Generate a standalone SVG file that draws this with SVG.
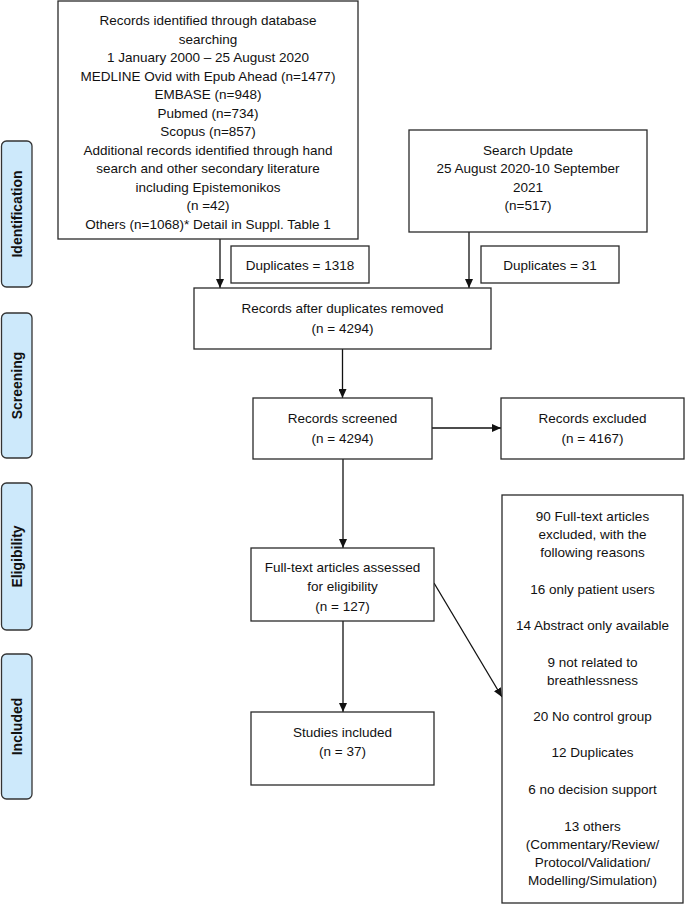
<svg xmlns="http://www.w3.org/2000/svg" width="685" height="906" viewBox="0 0 685 906">
<style>
  .box { fill: #ffffff; stroke: #2a2a2a; stroke-width: 1.3; }
  .phase { fill: #cde9fb; stroke: #333333; stroke-width: 1.3; }
  .t { font-family: "Liberation Sans", Arial, sans-serif; font-size: 13.5px; fill: #111111; text-anchor: middle; }
  .pt { font-family: "Liberation Sans", Arial, sans-serif; font-size: 14px; font-weight: bold; fill: #111111; text-anchor: middle; }
  .conn { stroke: #111111; stroke-width: 1.3; fill: none; marker-end: url(#ah); }
</style>
<defs>
  <marker id="ah" markerUnits="userSpaceOnUse" markerWidth="10" markerHeight="8" refX="9" refY="4" orient="auto">
    <path d="M0,0 L9,4 L0,8 z" fill="#111111"/>
  </marker>
</defs>
<rect x="0" y="0" width="685" height="906" fill="#ffffff"/>

<g id="phase-identification">
  <rect class="phase" x="1.5" y="141" width="30.5" height="146" rx="5"/>
  <text class="pt" transform="translate(21.8,214) rotate(-90)">Identification</text>
</g>
<g id="phase-screening">
  <rect class="phase" x="1.5" y="313" width="30.5" height="145" rx="5"/>
  <text class="pt" transform="translate(21.8,385.5) rotate(-90)">Screening</text>
</g>
<g id="phase-eligibility">
  <rect class="phase" x="1.5" y="483" width="30.5" height="147" rx="5"/>
  <text class="pt" transform="translate(21.8,556.5) rotate(-90)">Eligibility</text>
</g>
<g id="phase-included">
  <rect class="phase" x="1.5" y="654" width="30.5" height="145" rx="5"/>
  <text class="pt" transform="translate(21.8,726.5) rotate(-90)">Included</text>
</g>

<g id="connectors">
  <line class="conn" x1="220" y1="239" x2="220" y2="288"/>
  <line class="conn" x1="469" y1="232" x2="469" y2="288"/>
  <line class="conn" x1="342.5" y1="349" x2="342.5" y2="398"/>
  <line class="conn" x1="432" y1="428" x2="501" y2="428"/>
  <line class="conn" x1="343" y1="459" x2="343" y2="548"/>
  <line class="conn" x1="343" y1="621" x2="343" y2="712"/>
  <line class="conn" x1="434" y1="583" x2="502" y2="697"/>
</g>

<g id="records-identified">
  <rect class="box" x="58" y="1" width="300" height="238"/>
  <text class="t" x="208" y="25">Records identified through database</text>
  <text class="t" x="208" y="43.5">searching</text>
  <text class="t" x="208" y="62">1 January 2000 – 25 August 2020</text>
  <text class="t" x="208" y="80.5">MEDLINE Ovid with Epub Ahead (n=1477)</text>
  <text class="t" x="208" y="99">EMBASE (n=948)</text>
  <text class="t" x="208" y="117.5">Pubmed (n=734)</text>
  <text class="t" x="208" y="136">Scopus (n=857)</text>
  <text class="t" x="208" y="154.5">Additional records identified through hand</text>
  <text class="t" x="208" y="173">search and other secondary literature</text>
  <text class="t" x="208" y="191.5">including Epistemonikos</text>
  <text class="t" x="208" y="210">(n =42)</text>
  <text class="t" x="208" y="228.5">Others (n=1068)* Detail in Suppl. Table 1</text>
</g>

<g id="search-update">
  <rect class="box" x="409" y="130" width="238" height="102"/>
  <text class="t" x="528" y="154.5">Search Update</text>
  <text class="t" x="528" y="173">25 August 2020-10 September</text>
  <text class="t" x="528" y="191.5">2021</text>
  <text class="t" x="528" y="210">(n=517)</text>
</g>

<g id="duplicates-1318">
  <rect class="box" x="231" y="246" width="138" height="37"/>
  <text class="t" x="300" y="270">Duplicates = 1318</text>
</g>

<g id="duplicates-31">
  <rect class="box" x="481" y="246" width="138" height="37"/>
  <text class="t" x="550" y="270">Duplicates = 31</text>
</g>

<g id="records-after-duplicates">
  <rect class="box" x="194" y="288" width="297" height="61"/>
  <text class="t" x="342.5" y="312.8">Records after duplicates removed</text>
  <text class="t" x="342.5" y="332.8">(n = 4294)</text>
</g>

<g id="records-screened">
  <rect class="box" x="253" y="398" width="179" height="61"/>
  <text class="t" x="342.5" y="422.5">Records screened</text>
  <text class="t" x="342.5" y="442.5">(n = 4294)</text>
</g>

<g id="records-excluded">
  <rect class="box" x="501" y="398" width="183" height="61"/>
  <text class="t" x="592.5" y="422.5">Records excluded</text>
  <text class="t" x="592.5" y="442.5">(n = 4167)</text>
</g>

<g id="full-text-assessed">
  <rect class="box" x="251" y="548" width="183" height="73"/>
  <text class="t" x="342.5" y="572.2">Full-text articles assessed</text>
  <text class="t" x="342.5" y="591.2">for eligibility</text>
  <text class="t" x="342.5" y="611.2">(n = 127)</text>
</g>

<g id="studies-included">
  <rect class="box" x="251" y="712" width="183" height="73"/>
  <text class="t" x="342.5" y="736.5">Studies included</text>
  <text class="t" x="342.5" y="755.5">(n = 37)</text>
</g>

<g id="full-text-excluded">
  <rect class="box" x="502" y="495" width="181" height="408"/>
  <text class="t" x="592.5" y="520.5">90 Full-text articles</text>
  <text class="t" x="592.5" y="538.5">excluded, with the</text>
  <text class="t" x="592.5" y="556.5">following reasons</text>
  <text class="t" x="592.5" y="593.5">16 only patient users</text>
  <text class="t" x="592.5" y="629.5">14 Abstract only available</text>
  <text class="t" x="592.5" y="666.5">9 not related to</text>
  <text class="t" x="592.5" y="684.5">breathlessness</text>
  <text class="t" x="592.5" y="720.5">20 No control group</text>
  <text class="t" x="592.5" y="756.5">12 Duplicates</text>
  <text class="t" x="592.5" y="793.5">6 no decision support</text>
  <text class="t" x="592.5" y="830.5">13 others</text>
  <text class="t" x="592.5" y="848.5">(Commentary/Review/</text>
  <text class="t" x="592.5" y="866.5">Protocol/Validation/</text>
  <text class="t" x="592.5" y="884.5">Modelling/Simulation)</text>
</g>
</svg>
